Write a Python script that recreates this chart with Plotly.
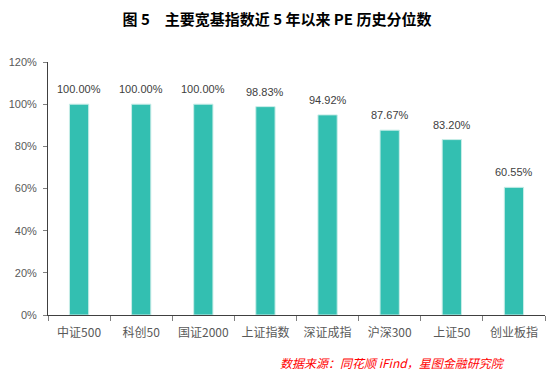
import plotly.graph_objects as go

categories = ["中证500", "科创50", "国证2000", "上证指数", "深证成指", "沪深300", "上证50", "创业板指"]
values = [100.00, 100.00, 100.00, 98.83, 94.92, 87.67, 83.20, 60.55]
y_ticks = [0, 20, 40, 60, 80, 100, 120]

fig = go.Figure(go.Bar(
    x=categories, y=values,
    marker=dict(color="#33BFB1", line=dict(color="#C9EDE8", width=1)),
    width=0.31,
))

for c, v in zip(categories, values):
    fig.add_annotation(
        x=c, y=v, text=f"{v:.2f}%", showarrow=False,
        yanchor="middle", yshift=15,
        font=dict(family="Liberation Sans, Arial", size=11, color="#404040"),
    )

fig.update_layout(
    width=554, height=375,
    margin=dict(l=45, r=9, t=62, b=60),
    paper_bgcolor="white", plot_bgcolor="white",
    showlegend=False,
    title=dict(text="<b>图 5　主要宽基指数近 5 年以来 PE 历史分位数</b>",
               x=0.5, xanchor="center", y=0.947, yanchor="middle",
               font=dict(family="Noto Sans CJK SC", size=15, color="black")),
    font=dict(family="Noto Sans CJK SC", size=11, color="#595959"),
)
fig.update_yaxes(
    range=[0, 120], tickvals=y_ticks, ticktext=[f"{t}%" for t in y_ticks],
    showgrid=False, showline=True, linecolor="#404040", linewidth=1,
    ticks="outside", ticklen=4, tickcolor="#808080", ticklabelstandoff=4,
    tickfont=dict(family="Liberation Sans, Arial", size=11, color="#595959"),
    zeroline=False,
)
fig.update_xaxes(
    showline=True, linecolor="#404040", linewidth=1,
    ticks="outside", ticklen=5, tickcolor="#808080", tickson="boundaries",
    ticklabelstandoff=7,
    tickfont=dict(family="Noto Sans CJK SC", size=12, color="#595959"),
)
fig.add_annotation(
    text="<i>数据来源：同花顺 iFind，星图金融研究院</i>",
    xref="paper", yref="paper", x=(507 - 45) / (554 - 45 - 9), y=(375 - 60 - 362) / (375 - 62 - 60),
    xanchor="right", yanchor="middle", showarrow=False,
    font=dict(family="Noto Sans CJK SC", size=12, color="#FF0000"),
)
fig.write_html("out.html")
